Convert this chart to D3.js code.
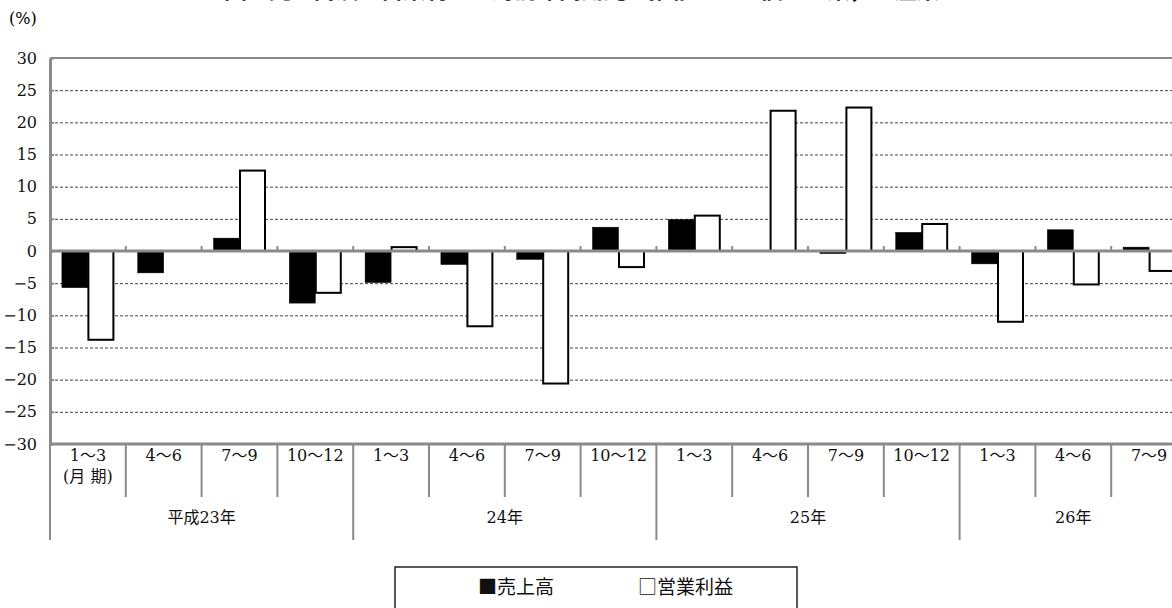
<!DOCTYPE html>
<html>
<head>
<meta charset="utf-8">
<script src="https://cdn.jsdelivr.net/npm/d3@7/dist/d3.min.js"></script>
<style>
  html, body { margin: 0; padding: 0; background: #fff; overflow: hidden; }
  svg { display: block; }
</style>
</head>
<body>
<svg id="chart" width="1172" height="608"></svg>
<script>
// Quarter labels (months) and the year each quarter belongs to
const quarters = ["1～3", "4～6", "7～9", "10～12",
                  "1～3", "4～6", "7～9", "10～12",
                  "1～3", "4～6", "7～9", "10～12",
                  "1～3", "4～6", "7～9"];
const years = ["平成23年", "24年", "25年", "26年"];
const quartersPerYear = [4, 4, 4, 3];
const seriesNames = ["売上高", "営業利益"];

// Year-on-year change (%) for each quarter
const sales  = [-5.7, -3.4, 2.0, -8.1, -4.9, -2.1, -1.3, 3.7, 4.9, 0.0, -0.4, 2.9, -2.0, 3.3, 0.6];
const profit = [-13.8, 0.0, 12.5, -6.5, 0.6, -11.7, -20.6, -2.5, 5.5, 21.8, 22.3, 4.2, -11.0, -5.2, -3.1];

const yTicks = [30, 25, 20, 15, 10, 5, 0, -5, -10, -15, -20, -25, -30];

const title = "図　売上高及び営業利益の対前年同期比の推移　－　個人企業，全産業　－";

const serif = "'DejaVu Serif', 'Noto Sans CJK JP', serif";
const gothic = "'Noto Sans CJK JP', sans-serif";

const svg = d3.select("#chart");
const plotLeft = 50, plotRight = 50 + 15 * 75.8, plotTop = 58, plotBottom = 444;
const axisGray = "#8a8a8a";

const x = d3.scaleBand().domain(d3.range(quarters.length)).range([plotLeft, plotRight]).padding(0);
const xs = d3.scaleBand().domain([0, 1]).range([0, x.bandwidth()]).paddingInner(0).paddingOuter(0.458);
const y = d3.scaleLinear().domain([-30, 30]).range([plotBottom, plotTop]);

// Title (sits at the very top edge)
svg.append("text")
  .attr("x", 604).attr("y", -2)
  .attr("text-anchor", "middle")
  .style("font-family", gothic)
  .style("font-size", "23px").style("font-weight", "bold")
  .attr("textLength", 760)
  .text(title);

// Unit label
svg.append("text")
  .attr("x", 9).attr("y", 24)
  .style("font-family", serif)
  .style("font-size", "16px")
  .text("(%)");

// Dashed gridlines
svg.append("g")
  .attr("transform", `translate(${plotLeft},0)`)
  .call(d3.axisLeft(y).tickValues(yTicks.filter(v => v !== 0 && Math.abs(v) !== 30))
        .tickSize(-(plotRight - plotLeft)).tickFormat(""))
  .call(g => g.select(".domain").remove())
  .call(g => g.selectAll("line").attr("stroke", "#444").attr("stroke-width", 1)
        .attr("stroke-dasharray", "3,2"));

// Bars
const data = quarters.map((q, i) => [sales[i], profit[i]]);
const groups = svg.append("g").selectAll("g").data(data).join("g")
  .attr("transform", (d, i) => `translate(${x(i)},0)`);
groups.selectAll("rect").data(d => d.map((v, k) => ({ v, k }))).join("rect")
  .attr("x", d => xs(d.k) + (d.k === 0 ? 0 : 0.5))
  .attr("width", d => xs.bandwidth() - (d.k === 0 ? 0 : 1))
  .attr("y", d => y(Math.max(0, d.v)))
  .attr("height", d => Math.abs(y(d.v) - y(0)))
  .attr("fill", d => d.k === 0 ? "#000" : "#fff")
  .attr("stroke", "#000")
  .attr("stroke-width", d => d.k === 0 ? 0.5 : 2);

// Plot frame: top border, bottom line, zero line
svg.append("line").attr("x1", plotLeft).attr("x2", plotRight).attr("y1", plotTop).attr("y2", plotTop)
  .attr("stroke", axisGray).attr("stroke-width", 2);
svg.append("line").attr("x1", plotLeft).attr("x2", plotRight).attr("y1", plotBottom).attr("y2", plotBottom)
  .attr("stroke", axisGray).attr("stroke-width", 3);
svg.append("line").attr("x1", plotLeft).attr("x2", plotRight).attr("y1", y(0)).attr("y2", y(0))
  .attr("stroke", axisGray).attr("stroke-width", 3);

// Small ticks on the zero line at quarter boundaries
svg.append("g").selectAll("line").data(d3.range(1, quarters.length)).join("line")
  .attr("x1", i => x(i)).attr("x2", i => x(i))
  .attr("y1", y(0) - 5).attr("y2", y(0))
  .attr("stroke", axisGray).attr("stroke-width", 2);

// Y axis with labels
svg.append("g")
  .attr("transform", `translate(${plotLeft},0)`)
  .call(d3.axisLeft(y).tickValues(yTicks).tickSizeInner(-4).tickSizeOuter(0).tickPadding(13))
  .call(g => g.select(".domain").attr("stroke", axisGray).attr("stroke-width", 3))
  .call(g => g.selectAll(".tick line").attr("stroke", axisGray).attr("stroke-width", 2))
  .call(g => g.selectAll("text").style("font-family", serif).style("font-size", "16px")
        .attr("fill", "#111"));

// Quarter labels
const qRowBottom = 497, yRowBottom = 540;
const qLabels = svg.append("g").style("font-family", serif).style("font-size", "16px").attr("fill", "#111");
qLabels.selectAll("text").data(quarters).join("text")
  .attr("x", (d, i) => x(i) + x.bandwidth() / 2)
  .attr("y", 461)
  .attr("text-anchor", "middle")
  .text(d => d);
qLabels.append("text")
  .attr("x", x(0) + x.bandwidth() / 2).attr("y", 482)
  .attr("text-anchor", "middle")
  .text("(月 期)");

// Separators between quarters and between years
const yearStarts = d3.cumsum([0, ...quartersPerYear]).slice(0, years.length);
const yearEdges = new Set([...yearStarts]);
svg.append("g").selectAll("line").data(d3.range(0, quarters.length)).join("line")
  .attr("x1", i => x(i)).attr("x2", i => x(i))
  .attr("y1", plotBottom).attr("y2", i => yearEdges.has(i) ? yRowBottom : qRowBottom)
  .attr("stroke", axisGray).attr("stroke-width", 2);

// Year labels
svg.append("g").style("font-family", serif).style("font-size", "16px").attr("fill", "#111")
  .selectAll("text").data(years).join("text")
  .attr("x", (d, i) => {
    const s = yearStarts[i], n = quartersPerYear[i];
    return (x(s) + x(s + n - 1) + x.bandwidth()) / 2;
  })
  .attr("y", 523)
  .attr("text-anchor", "middle")
  .text(d => d);

// Legend
const legend = svg.append("g");
legend.append("rect").attr("x", 395).attr("y", 567).attr("width", 402).attr("height", 60)
  .attr("fill", "none").attr("stroke", "#222").attr("stroke-width", 1.5);
const legendX = [478, 638];
legend.selectAll("text").data(seriesNames).join("text")
  .attr("x", (d, i) => legendX[i]).attr("y", 594)
  .style("font-family", gothic)
  .style("font-size", "19px").attr("fill", "#111")
  .text((d, i) => (i === 0 ? "■" : "□") + d);
</script>
</body>
</html>
